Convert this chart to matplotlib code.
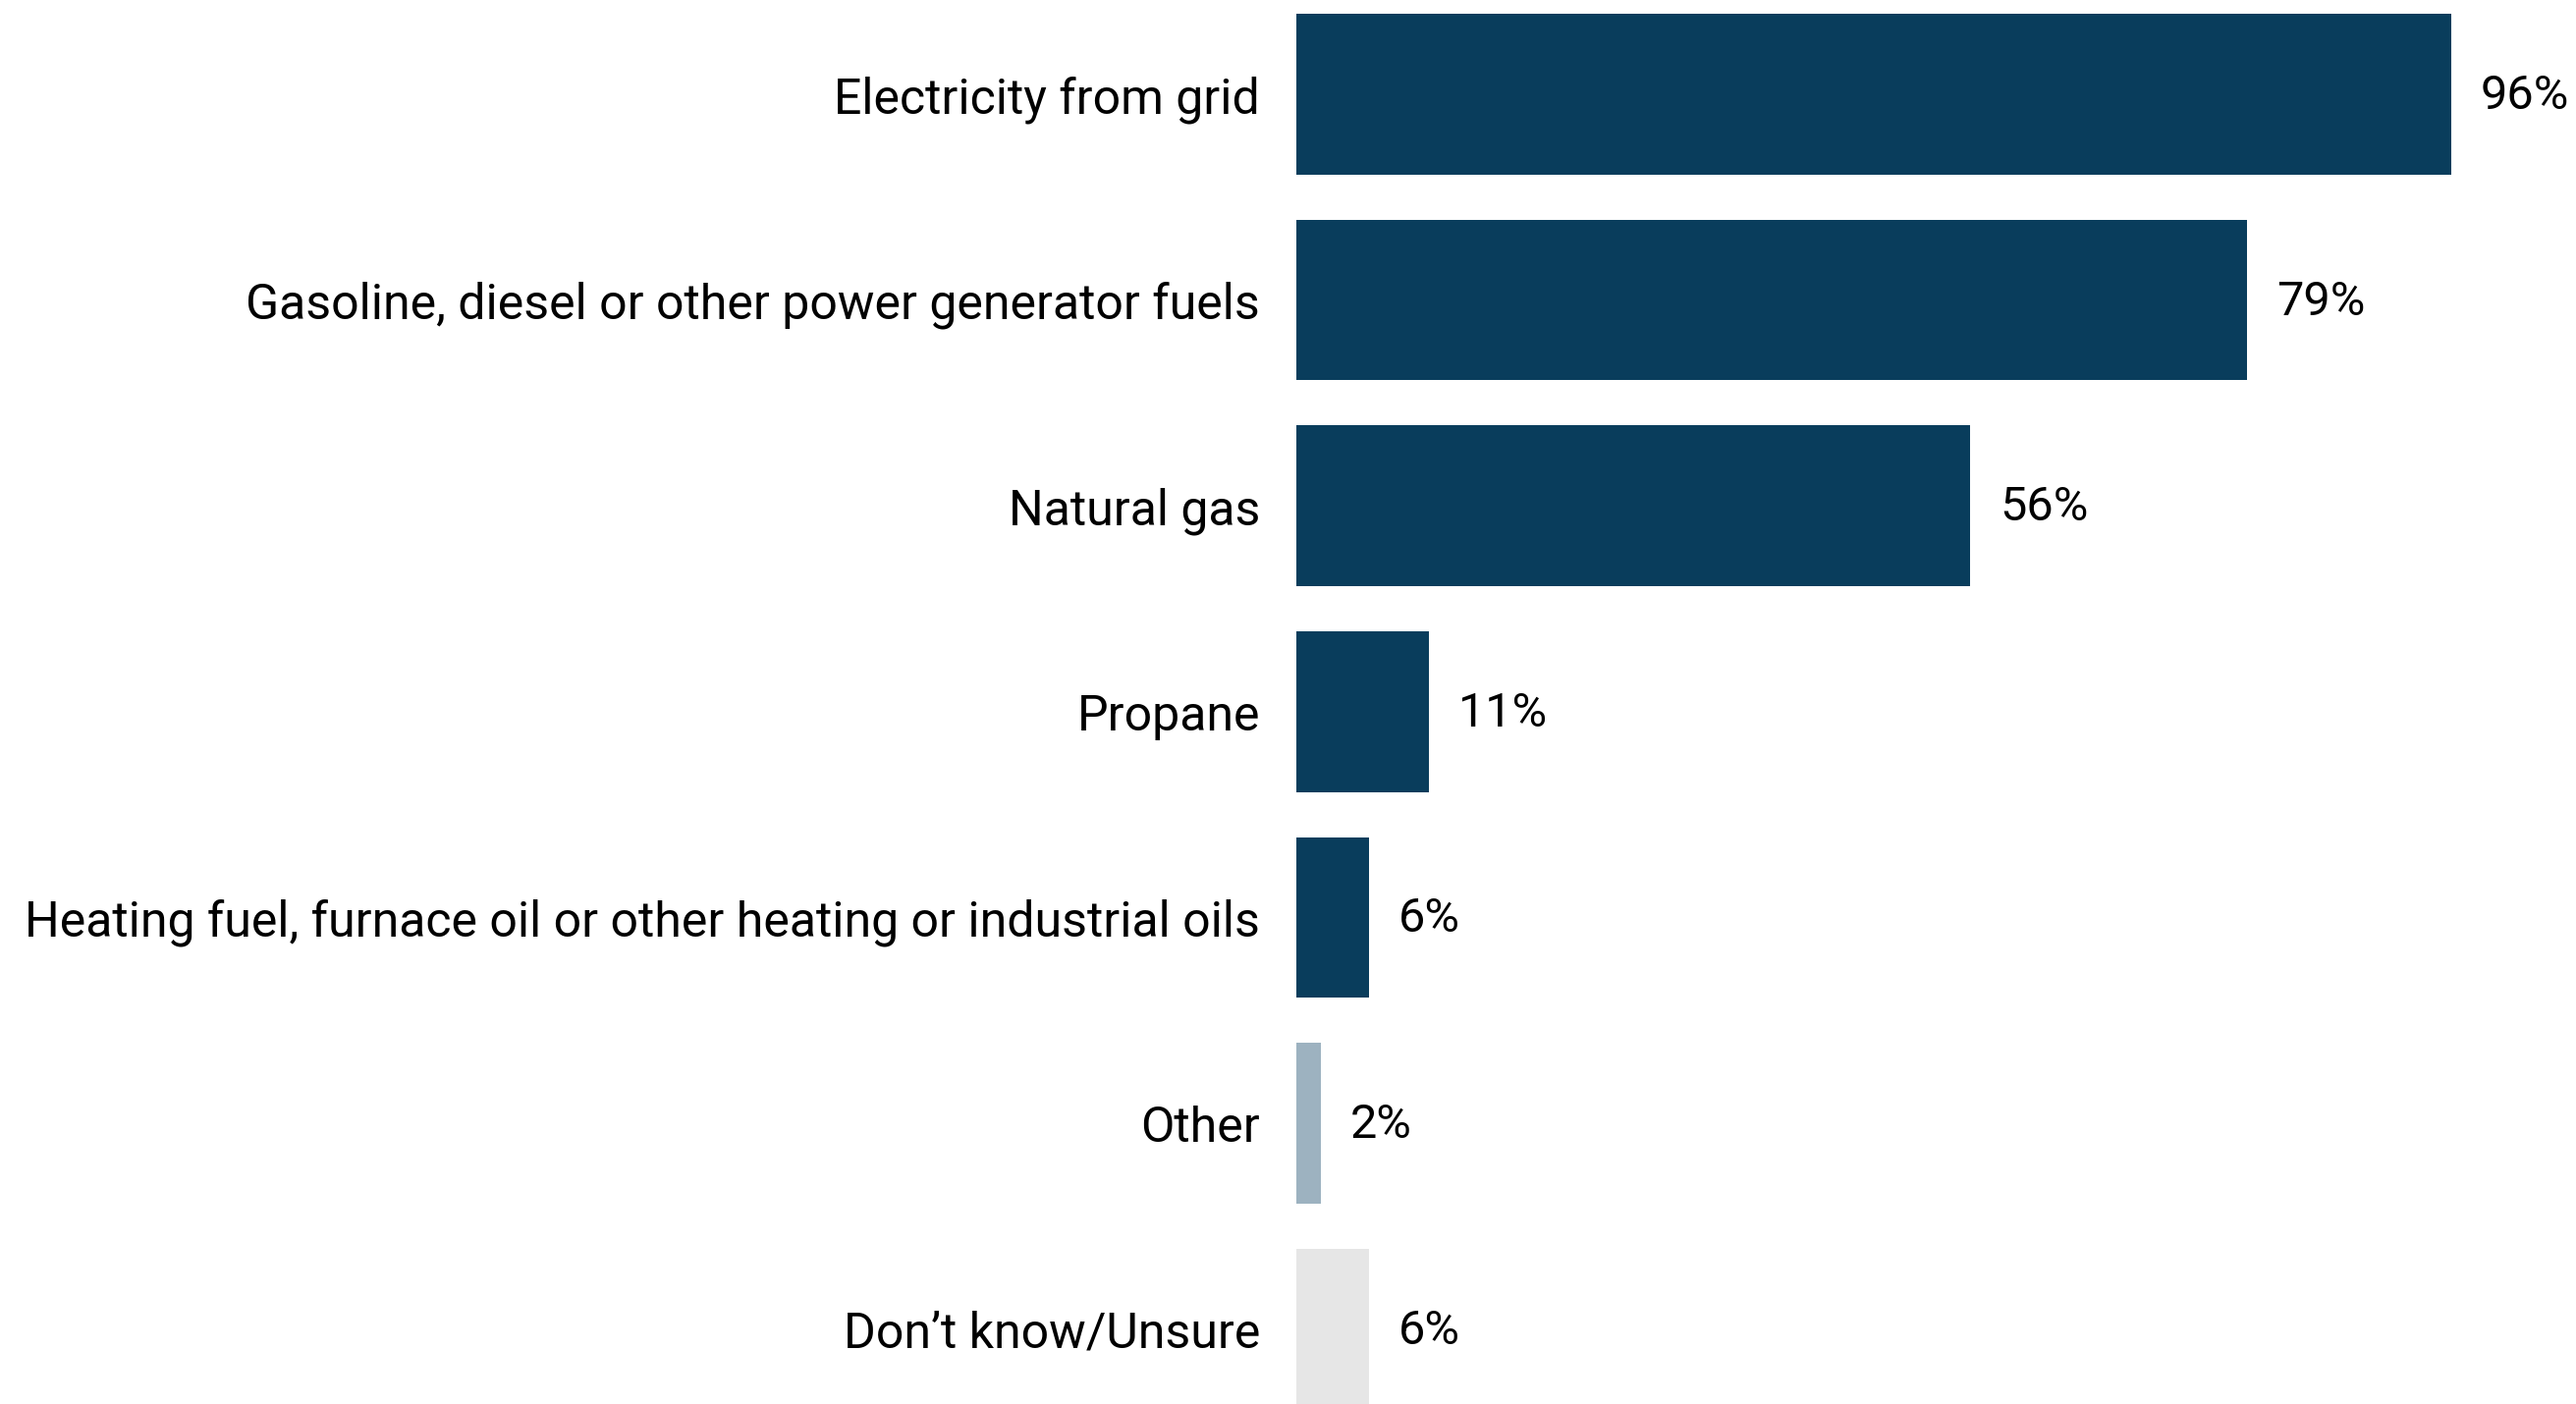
import matplotlib
matplotlib.use("Agg")
import matplotlib.pyplot as plt

categories = [
    "Electricity from grid",
    "Gasoline, diesel or other power generator fuels",
    "Natural gas",
    "Propane",
    "Heating fuel, furnace oil or other heating or industrial oils",
    "Other",
    "Don\u2019t know/Unsure",
]
values = [96, 79, 56, 11, 6, 2, 6]
colors = ["#093d5c", "#093d5c", "#093d5c", "#093d5c", "#093d5c", "#9db2c0", "#e6e6e6"]

plt.rcParams['font.family'] = ['Roboto', 'DejaVu Sans']

W, H = 2623, 1430
fig = plt.figure(figsize=(W / 100, H / 100), dpi=100)
step = 209.6
c0 = 96
left_px = 1320
px_per_pct = 12.25
ax_w_px = 100 * px_per_pct
top_px = c0 - 0.5 * step
bot_px = c0 + 6.5 * step
ax = fig.add_axes([left_px / W, (H - bot_px) / H, ax_w_px / W, (bot_px - top_px) / H])

y = list(range(len(categories)))
ax.barh(y, values, height=0.78, color=colors)
ax.set_xlim(0, 100)
ax.set_ylim(6.5, -0.5)
ax.set_yticks(y)
ax.set_yticklabels(categories, fontsize=36)
ax.tick_params(axis='y', length=0, pad=37 * 0.72)
ax.set_xticks([])
for s in ax.spines.values():
    s.set_visible(False)

for yi, v in zip(y, values):
    ax.text(v + 30 / px_per_pct, yi + 0.01, f"{v}%", va='center', ha='left', fontsize=35, clip_on=False)

fig.savefig("out.png", dpi=100)
